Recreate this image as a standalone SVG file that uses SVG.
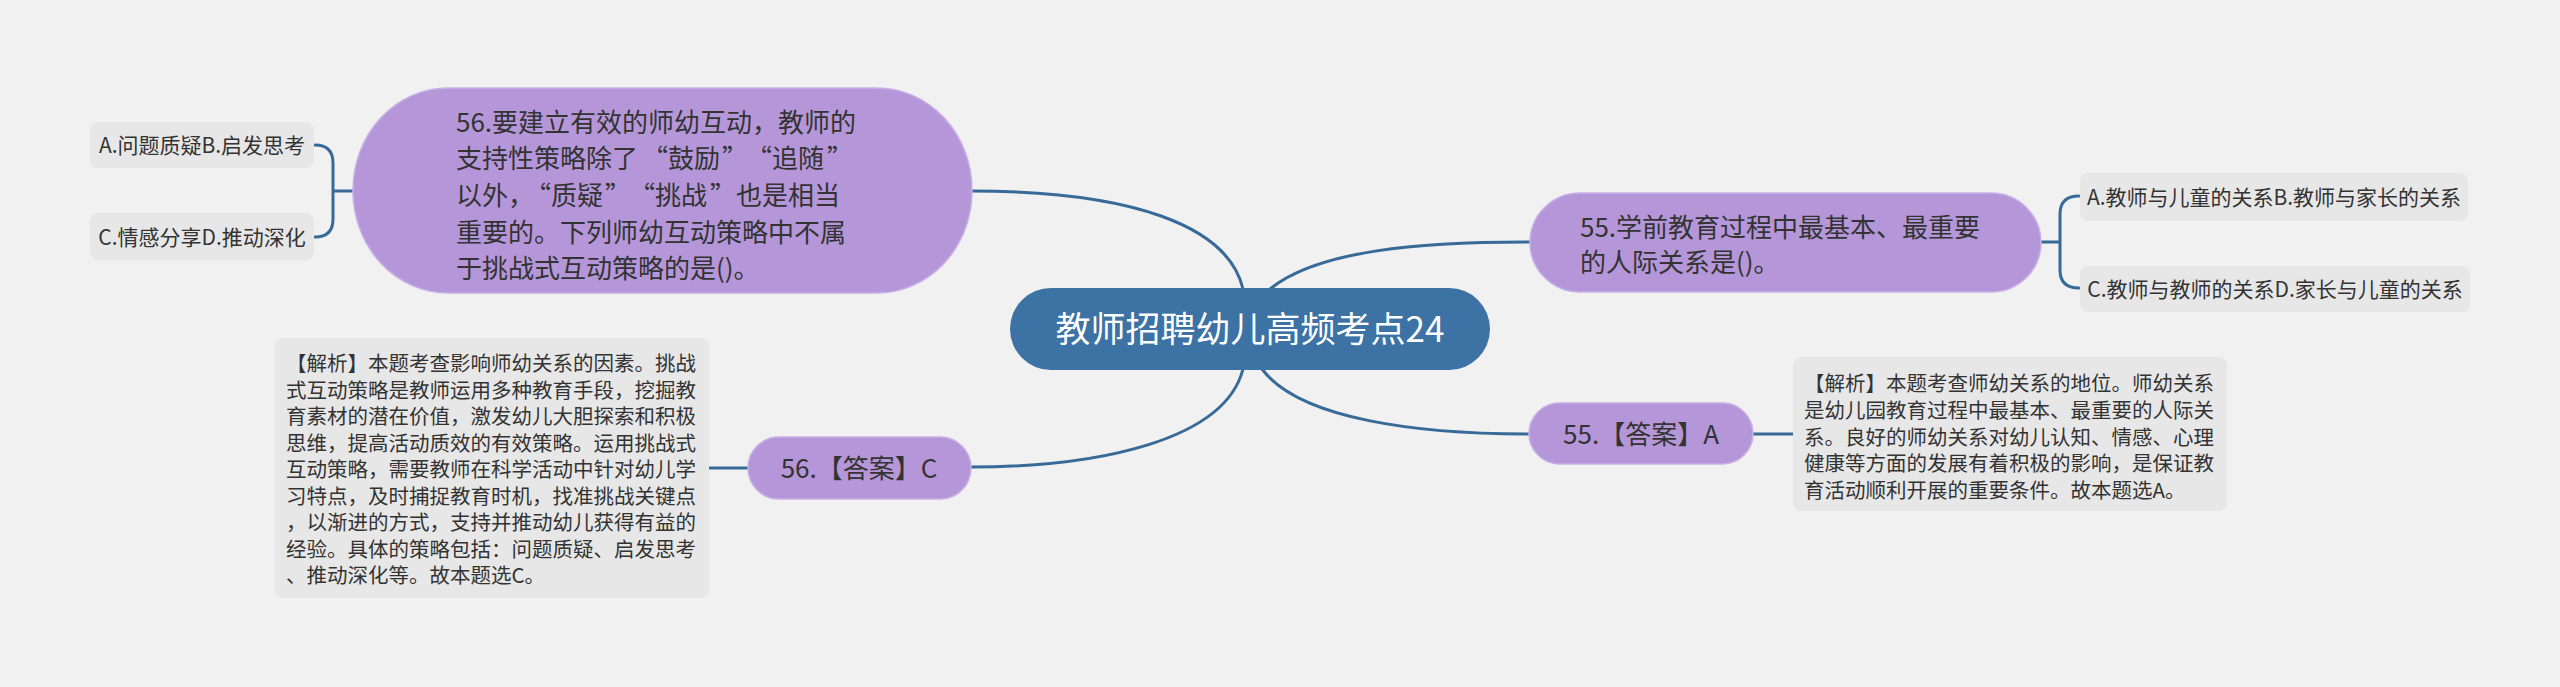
<svg xmlns="http://www.w3.org/2000/svg" width="2560" height="687" viewBox="0 0 2560 687">
<defs>
<style>
text{font-family:"Noto Sans CJK SC","Noto Sans",sans-serif;fill:#333333}
.conn{fill:none;stroke:#386a98;stroke-width:3;stroke-linecap:round}
.topic{fill:#b597d9;stroke:#c7b0e6;stroke-width:1.5}
.opt{fill:#e7e7e7}
.q{font-size:26px}
.o{font-size:21px}
.e{font-size:20.5px}
</style>
</defs>
<rect width="2560" height="687" fill="#f1f1f1"/>
<g id="connectors">
<path class="conn" d="M971,191 C1130,191 1228,225 1243,289"/>
<path class="conn" d="M1270,289 C1318,250 1420,242 1530,242"/>
<path class="conn" d="M1243,369 C1225,440 1100,467 971,467"/>
<path class="conn" d="M1262,369 C1300,420 1420,434 1529,434"/>
<path class="conn" d="M315,145 Q333,145 333,163 L333,219 Q333,237 315,237 M333,191 L354,191"/>
<path class="conn" d="M2040,242 L2060,242 M2079,196 Q2060,196 2060,214 L2060,270 Q2060,288 2079,288"/>
<path class="conn" d="M1753,434 L1793,434"/>
<path class="conn" d="M709,468 L748,468"/>
</g>
<g id="center">
<rect x="1010" y="288" width="480" height="82" rx="41" fill="#3c72a4"/>
<text x="1250" y="342" font-size="35" text-anchor="middle" style="fill:#ffffff">教师招聘幼儿高频考点24</text>
</g>
<g id="q56">
<rect class="topic" x="353" y="88" width="619" height="205" rx="95" ry="102"/>
<text class="q" x="456" y="131.6">56.要建立有效的师幼互动，教师的</text>
<text class="q" x="456" y="168.2">支持性策略除了<tspan dx="4">“</tspan>鼓励<tspan dx="2">”</tspan><tspan dx="11">“</tspan>追随<tspan dx="3">”</tspan></text>
<text class="q" x="456" y="204.9">以外，<tspan dx="4">“</tspan>质疑<tspan dx="2">”</tspan><tspan dx="11">“</tspan>挑战<tspan dx="3">”</tspan>也是相当</text>
<text class="q" x="456" y="241.6">重要的。下列师幼互动策略中不属</text>
<text class="q" x="456" y="278.2">于挑战式互动策略的是()。</text>
</g>
<g id="q56-optA">
<rect class="opt" x="90" y="122" width="224" height="46" rx="8"/>
<text class="o" x="202" y="153" text-anchor="middle">A.问题质疑B.启发思考</text>
</g>
<g id="q56-optC">
<rect class="opt" x="90" y="213" width="224" height="47" rx="8"/>
<text class="o" x="202" y="244.5" text-anchor="middle">C.情感分享D.推动深化</text>
</g>
<g id="q55">
<rect class="topic" x="1530" y="193" width="511" height="99" rx="50" ry="49.5"/>
<text class="q" x="1580" y="237">55.学前教育过程中最基本、最重要</text>
<text class="q" x="1580" y="272">的人际关系是()。</text>
</g>
<g id="q55-optA">
<rect class="opt" x="2080" y="173" width="388" height="48" rx="8"/>
<text class="o" x="2274" y="205" text-anchor="middle">A.教师与儿童的关系B.教师与家长的关系</text>
</g>
<g id="q55-optC">
<rect class="opt" x="2080" y="266" width="390" height="46" rx="8"/>
<text class="o" x="2275" y="297" text-anchor="middle">C.教师与教师的关系D.家长与儿童的关系</text>
</g>
<g id="a55">
<rect class="topic" x="1529" y="403" width="224" height="61" rx="30.5"/>
<text class="q" x="1641" y="444" text-anchor="middle">55.【答案】A</text>
</g>
<g id="a55-exp">
<rect class="opt" x="1793" y="357" width="434" height="154" rx="8"/>
<text class="e" x="1804" y="391">【解析】本题考查师幼关系的地位。师幼关系</text>
<text class="e" x="1804" y="418">是幼儿园教育过程中最基本、最重要的人际关</text>
<text class="e" x="1804" y="444.5">系。良好的师幼关系对幼儿认知、情感、心理</text>
<text class="e" x="1804" y="471">健康等方面的发展有着积极的影响，是保证教</text>
<text class="e" x="1804" y="498">育活动顺利开展的重要条件。故本题选A。</text>
</g>
<g id="a56">
<rect class="topic" x="748" y="437" width="223" height="62" rx="31"/>
<text class="q" x="859" y="478" text-anchor="middle">56.【答案】C</text>
</g>
<g id="a56-exp">
<rect class="opt" x="275" y="338" width="434" height="260" rx="8"/>
<text class="e" x="286" y="371">【解析】本题考查影响师幼关系的因素。挑战</text>
<text class="e" x="286" y="397.5">式互动策略是教师运用多种教育手段，挖掘教</text>
<text class="e" x="286" y="424">育素材的潜在价值，激发幼儿大胆探索和积极</text>
<text class="e" x="286" y="450.5">思维，提高活动质效的有效策略。运用挑战式</text>
<text class="e" x="286" y="477">互动策略，需要教师在科学活动中针对幼儿学</text>
<text class="e" x="286" y="503.5">习特点，及时捕捉教育时机，找准挑战关键点</text>
<text class="e" x="286" y="530">，以渐进的方式，支持并推动幼儿获得有益的</text>
<text class="e" x="286" y="556.5">经验。具体的策略包括：问题质疑、启发思考</text>
<text class="e" x="286" y="583">、推动深化等。故本题选C。</text>
</g>
</svg>
